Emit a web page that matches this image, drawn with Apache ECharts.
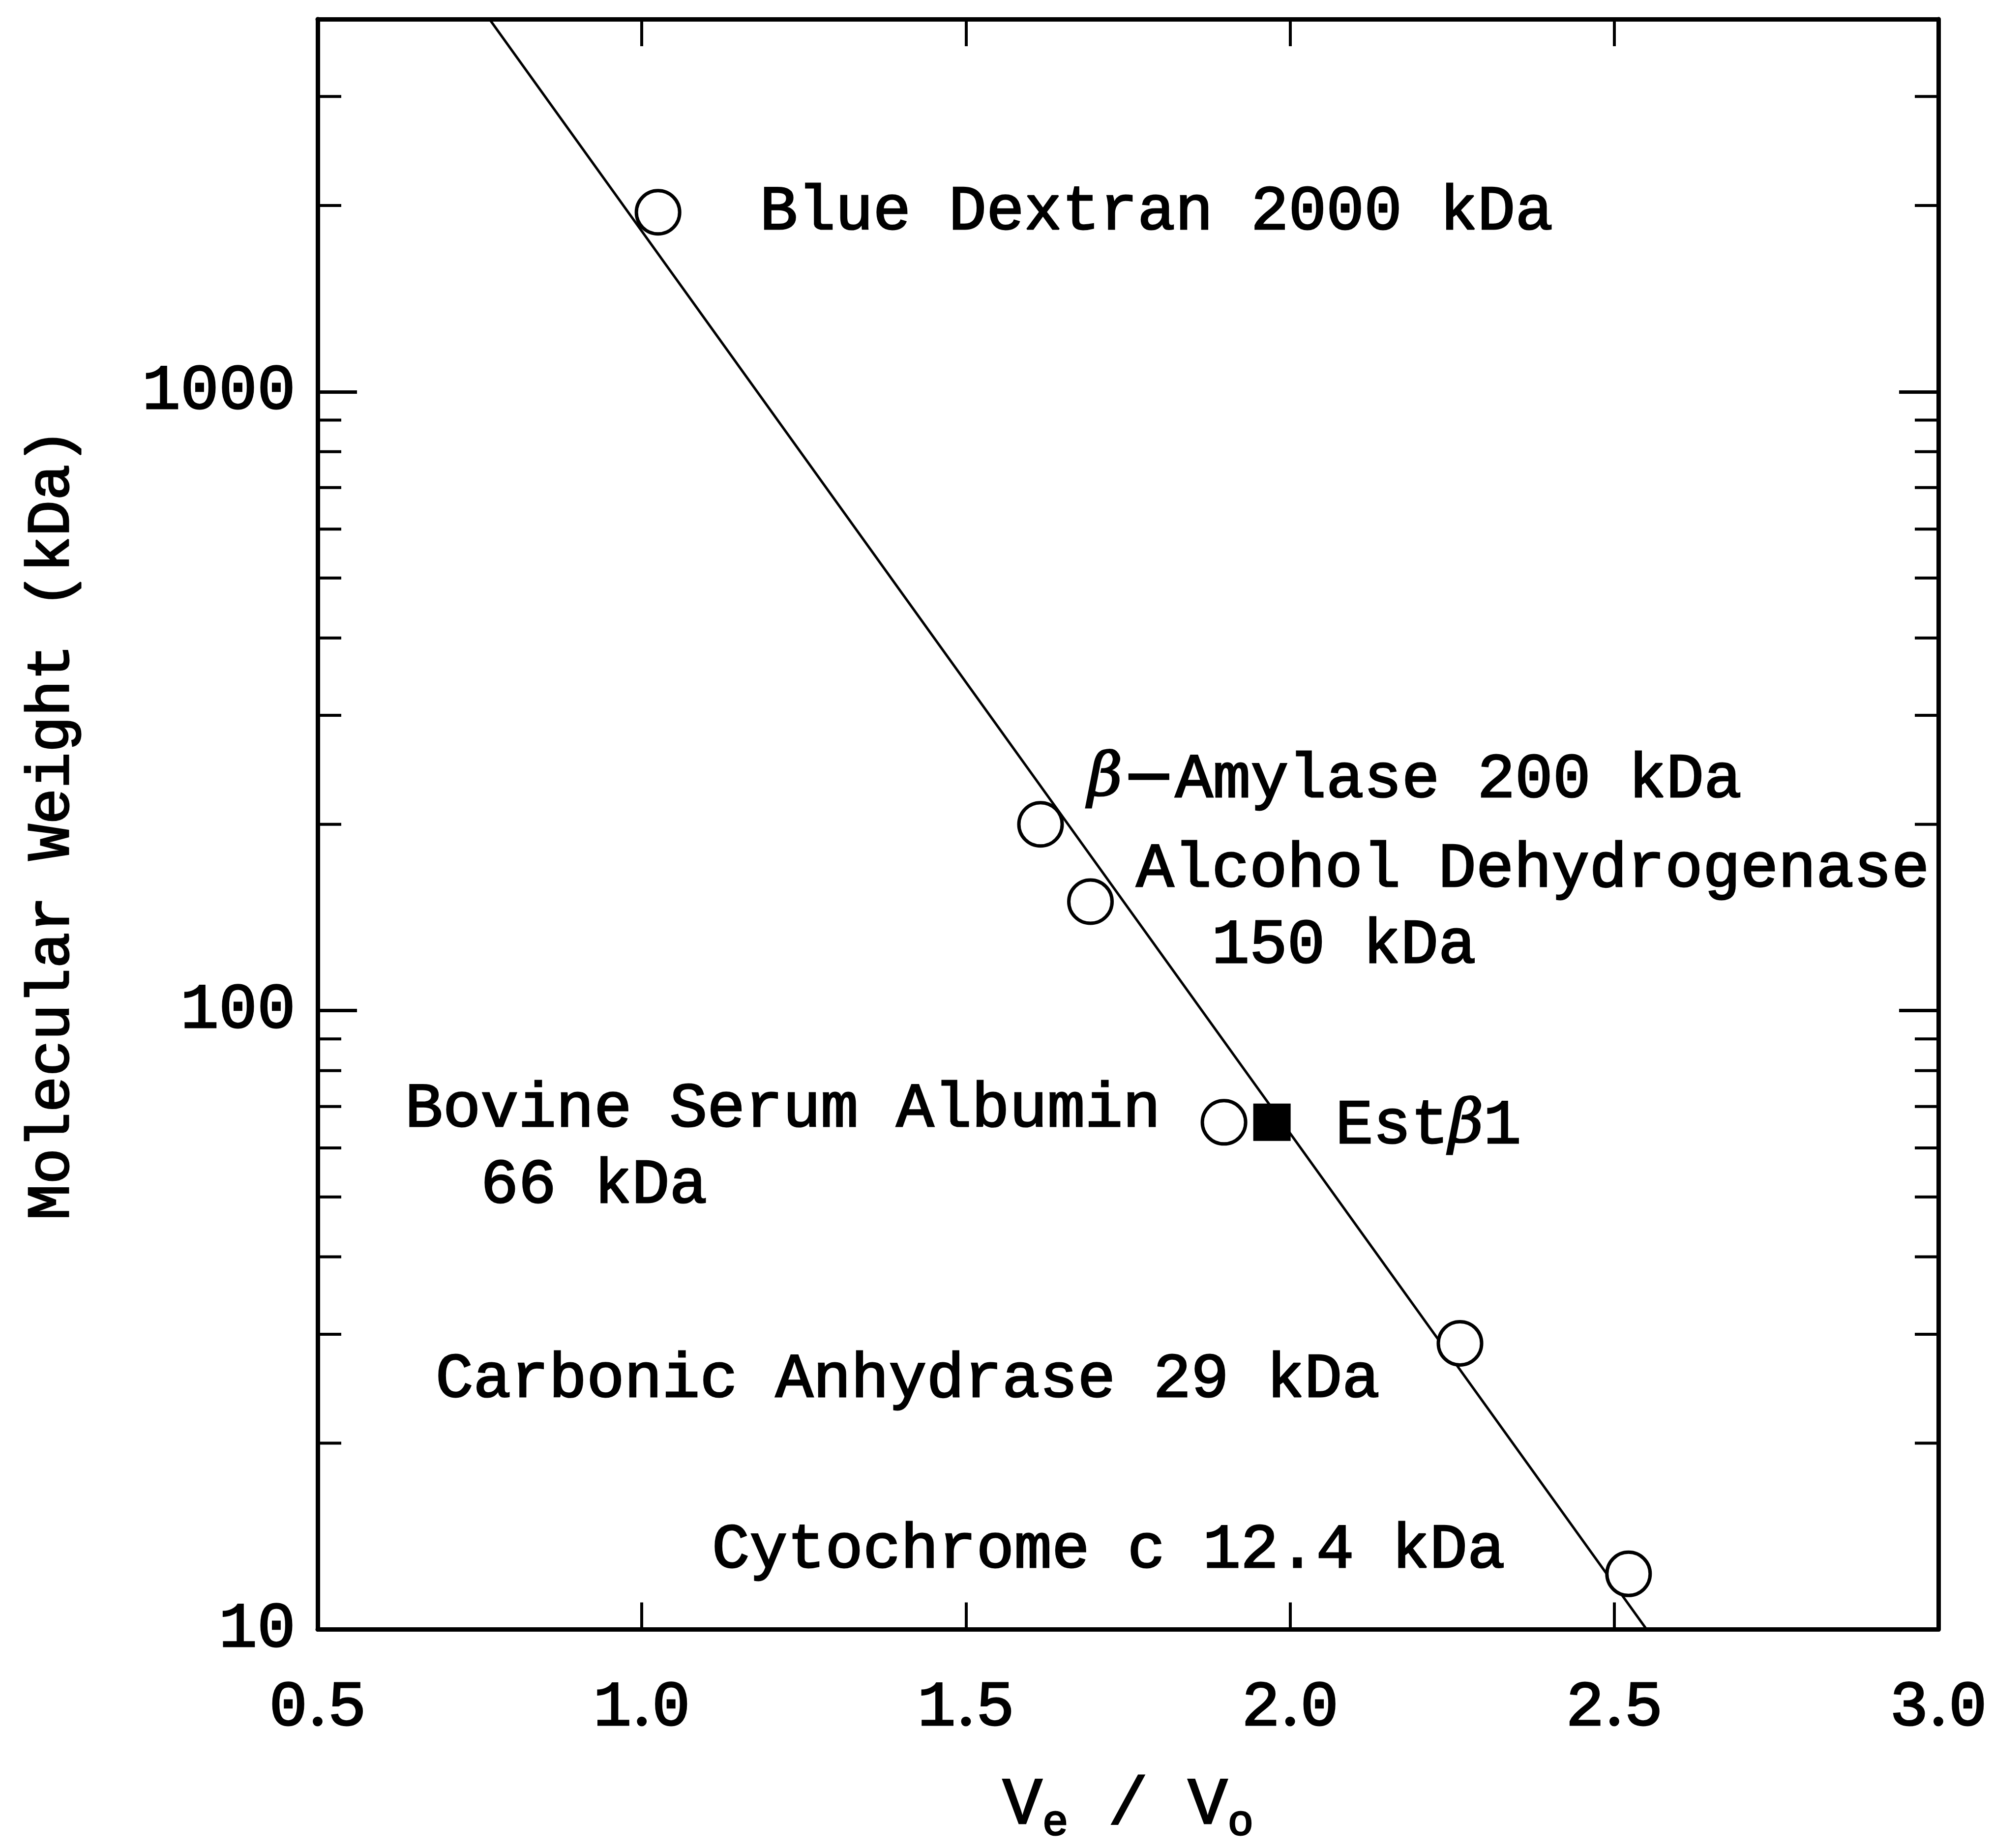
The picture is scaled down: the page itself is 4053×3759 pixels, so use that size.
<!DOCTYPE html>
<html lang="en">
<head>
    <meta charset="utf-8">
    <title>Molecular weight calibration</title>
    <style>
        html, body { margin: 0; padding: 0; background: #fff; }
        #chart { width: 4053px; height: 3759px; }
    </style>
</head>
<body>
<div id="chart"></div>
<script src="https://cdn.jsdelivr.net/npm/echarts@6.0.0/dist/echarts.min.js"></script>
<script type="text/javascript">

// calibration standards (open circles)
var proteinNames = ['Blue Dextran 2000 kDa', 'β−Amylase 200 kDa', 'Alcohol Dehydrogenase\n  150 kDa',
    'Bovine Serum Albumin\n  66 kDa            ', 'Carbonic Anhydrase 29 kDa', 'Cytochrome c 12.4 kDa'];
var veVo = [1.025, 1.615, 1.692, 1.898, 2.262, 2.522];
var mwKDa = [1950, 200, 150, 66, 29, 12.3];

// unknown (filled square)
var estVeVo = [1.972];
var estMW = [66];

// fitted line end points
var fitVeVo = [0.765, 2.55];
var fitMW = [4000, 10];

// axes
var xTicks = [0.5, 1.0, 1.5, 2.0, 2.5, 3.0];
var yTicks = [10, 100, 1000];
var yMinorTicks = [20, 30, 40, 50, 60, 70, 80, 90, 200, 300, 400, 500, 600, 700, 800, 900, 2000, 3000];

var FONT = 'Liberation Mono';
var SERIF = 'DejaVu Serif';

// label placement for each standard: [align, dx, dy]
var labelPlace = [
    ['left', 207, 0],
    ['left', 96, -90],
    ['left', 93, 13],
    ['right', -129, 52],
    ['right', -163, 75],
    ['right', -251, -47]
];

var ink = { color: '#000', textBorderColor: '#000', textBorderWidth: 3 };

var richText = {
    t: Object.assign({ fontFamily: FONT, fontSize: 128 }, ink),
    g: Object.assign({ fontFamily: SERIF, fontStyle: 'italic', fontSize: 122 }, ink),
    m: Object.assign({ fontFamily: SERIF, fontSize: 128 }, ink)
};

function fmtLine(s) {
    // every run tagged so all of it gets the same ink; beta italic, long dash
    var out = '{t|' + s + '}';
    out = out.replace('β', '}{g|β}{t|').replace('−', '}{m|−}{t|');
    return out.replace(/\{t\|\}/g, '');
}

var labelStyle = Object.assign({
    show: true,
    position: 'inside',
    verticalAlign: 'middle',
    fontFamily: FONT, fontSize: 128,
    lineHeight: 155,
    rich: richText
}, ink);

var stdData = veVo.map(function (v, i) {
    var p = labelPlace[i];
    return {
        value: [v, mwKDa[i]],
        label: Object.assign({}, labelStyle, {
            align: p[0],
            offset: [p[1], p[2]],
            formatter: proteinNames[i].split('\n').map(fmtLine).join('\n')
        })
    };
});

var estData = estVeVo.map(function (v, i) {
    return {
        value: [v, estMW[i]],
        label: Object.assign({}, labelStyle, {
            align: 'left',
            offset: [129, 8],
            formatter: fmtLine('Estβ1')
        })
    };
});

var tickFont = Object.assign({ fontFamily: FONT, fontSize: 130 }, ink);

var chart = echarts.init(document.getElementById('chart'));
var option = {
    backgroundColor: '#fff',
    animation: false,
    grid: { left: 646, right: 111, top: 39, bottom: 442 },
    xAxis: [{
        type: 'value',
        min: 0.5, max: 3.0, interval: 0.5,
        position: 'bottom',
        name: '{v|V}{s|e}{v| / V}{s|o}',
        nameLocation: 'middle',
        nameGap: 280,
        nameTextStyle: {
            rich: {
                v: Object.assign({ fontFamily: FONT, fontSize: 135 }, ink),
                s: Object.assign({ fontFamily: FONT, fontSize: 88, verticalAlign: 'bottom', padding: [70, 0, 0, 0] }, ink)
            }
        },
        axisLine: { lineStyle: { color: '#000', width: 9 } },
        axisTick: { inside: true, length: 55, lineStyle: { color: '#000', width: 6 } },
        axisLabel: {
            margin: 95,
            formatter: function (v) {
                var s = v.toFixed(1).split('.');
                return '{d|' + s[0] + '}{p|.}{d|' + s[1] + '}';
            },
            rich: {
                d: tickFont,
                p: Object.assign({ fontFamily: SERIF, fontSize: 130 }, ink)
            }
        },
        splitLine: { show: false }
    }, {
        type: 'value',
        min: 0.5, max: 3.0, interval: 0.5,
        position: 'top',
        axisLine: { lineStyle: { color: '#000', width: 9 } },
        axisTick: { inside: true, length: 55, lineStyle: { color: '#000', width: 6 } },
        axisLabel: { show: false },
        splitLine: { show: false }
    }],
    yAxis: [{
        type: 'log',
        logBase: 10,
        min: 10, max: 4000,
        position: 'left',
        name: 'Molecular Weight (kDa)',
        nameLocation: 'middle',
        nameGap: 478,
        nameTextStyle: Object.assign({ fontFamily: FONT, fontSize: 122 }, ink),
        axisLine: { lineStyle: { color: '#000', width: 9 } },
        axisTick: { inside: true, length: 80, customValues: yTicks, lineStyle: { color: '#000', width: 7 } },
        axisLabel: Object.assign({
            margin: 45,
            customValues: yTicks,
            formatter: function (v) { return String(v); }
        }, tickFont),
        splitLine: { show: false }
    }, {
        type: 'log',
        logBase: 10,
        min: 10, max: 4000,
        position: 'right',
        axisLine: { lineStyle: { color: '#000', width: 9 } },
        axisTick: { inside: true, length: 80, customValues: yTicks, lineStyle: { color: '#000', width: 7 } },
        axisLabel: { show: false },
        splitLine: { show: false }
    }],
    series: [{
        // minor log ticks on both sides
        type: 'custom',
        xAxisIndex: 0,
        yAxisIndex: 0,
        silent: true,
        data: yMinorTicks.map(function (m) { return [1, m]; }),
        renderItem: function (params, api) {
            var y = api.coord([1, api.value(1)])[1];
            var x0 = params.coordSys.x;
            var x1 = x0 + params.coordSys.width;
            var st = { stroke: '#000', lineWidth: 6 };
            return {
                type: 'group',
                children: [
                    { type: 'line', shape: { x1: x0, y1: y, x2: x0 + 48, y2: y }, style: st },
                    { type: 'line', shape: { x1: x1 - 48, y1: y, x2: x1, y2: y }, style: st }
                ]
            };
        }
    }, {
        type: 'line',
        data: fitVeVo.map(function (v, i) { return [v, fitMW[i]]; }),
        showSymbol: false,
        lineStyle: { color: '#000', width: 5 },
        z: 2
    }, {
        type: 'scatter',
        data: stdData,
        symbol: 'circle',
        symbolSize: 88,
        itemStyle: { color: '#fff', borderColor: '#000', borderWidth: 7, opacity: 1 },
        z: 3
    }, {
        type: 'scatter',
        data: estData,
        symbol: 'rect',
        symbolSize: 76,
        itemStyle: { color: '#000', opacity: 1 },
        z: 3
    }]
};
chart.setOption(option);

</script>
</body>
</html>
